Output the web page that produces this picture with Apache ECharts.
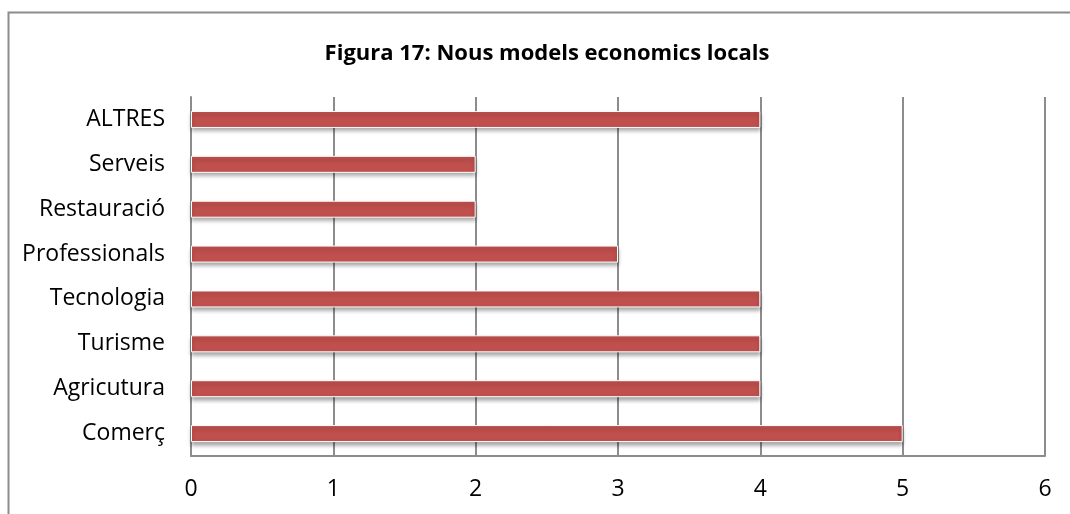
<!DOCTYPE html>
<html>
<head>
<meta charset="utf-8">
<script src="https://cdn.jsdelivr.net/npm/echarts@6/dist/echarts.min.js"></script>
<style>
  html, body { margin: 0; padding: 0; background: #fff; }
  #chart { width: 1070px; height: 514px; }
</style>
</head>
<body>
<div id="chart"></div>
<script>
// categories from bottom to top, as echarts draws category y-axis
const categories = ['Comerç', 'Agricutura', 'Turisme', 'Tecnologia', 'Professionals', 'Restauració', 'Serveis', 'ALTRES'];
const values = [5, 4, 4, 4, 3, 2, 2, 4];
const titleText = 'Figura 17: Nous models economics locals';

const myChart = echarts.init(document.getElementById('chart'));

const option = {
  animation: false,
  textStyle: { fontFamily: 'Open Sans' },
  title: {
    text: titleText,
    left: 542,
    top: 38,
    textAlign: 'center',
    textStyle: { fontSize: 22, fontWeight: 'bold', color: '#000', fontFamily: 'Open Sans' }
  },
  graphic: [
    {
      type: 'rect',
      left: 6, top: 10,
      shape: { width: 1100, height: 600 },
      style: { fill: 'none', stroke: '#8c8c8c', lineWidth: 2 },
      silent: true
    }
  ],
  grid: { left: 191, right: 25, top: 97, bottom: 58 },
  xAxis: {
    type: 'value',
    min: 0, max: 6, interval: 1,
    axisLine: { show: true, lineStyle: { color: '#8c8c8c', width: 2 } },
    axisTick: { show: false },
    axisLabel: { fontSize: 23, color: '#000', margin: 22 },
    splitLine: { show: true, lineStyle: { color: '#8c8c8c', width: 2 } }
  },
  yAxis: {
    type: 'category',
    data: categories,
    axisLine: { show: true, lineStyle: { color: '#8c8c8c', width: 2 } },
    axisTick: { show: false },
    axisLabel: { fontSize: 23, color: '#000', margin: 26 }
  },
  series: [
    {
      type: 'bar',
      data: values,
      barWidth: 17,
      itemStyle: {
        color: '#C0504D',
        borderColor: '#fff',
        borderWidth: 1,
        shadowColor: 'rgba(0,0,0,0.35)',
        shadowBlur: 4,
        shadowOffsetY: 3
      }
    }
  ]
};

myChart.setOption(option);
</script>
</body>
</html>
